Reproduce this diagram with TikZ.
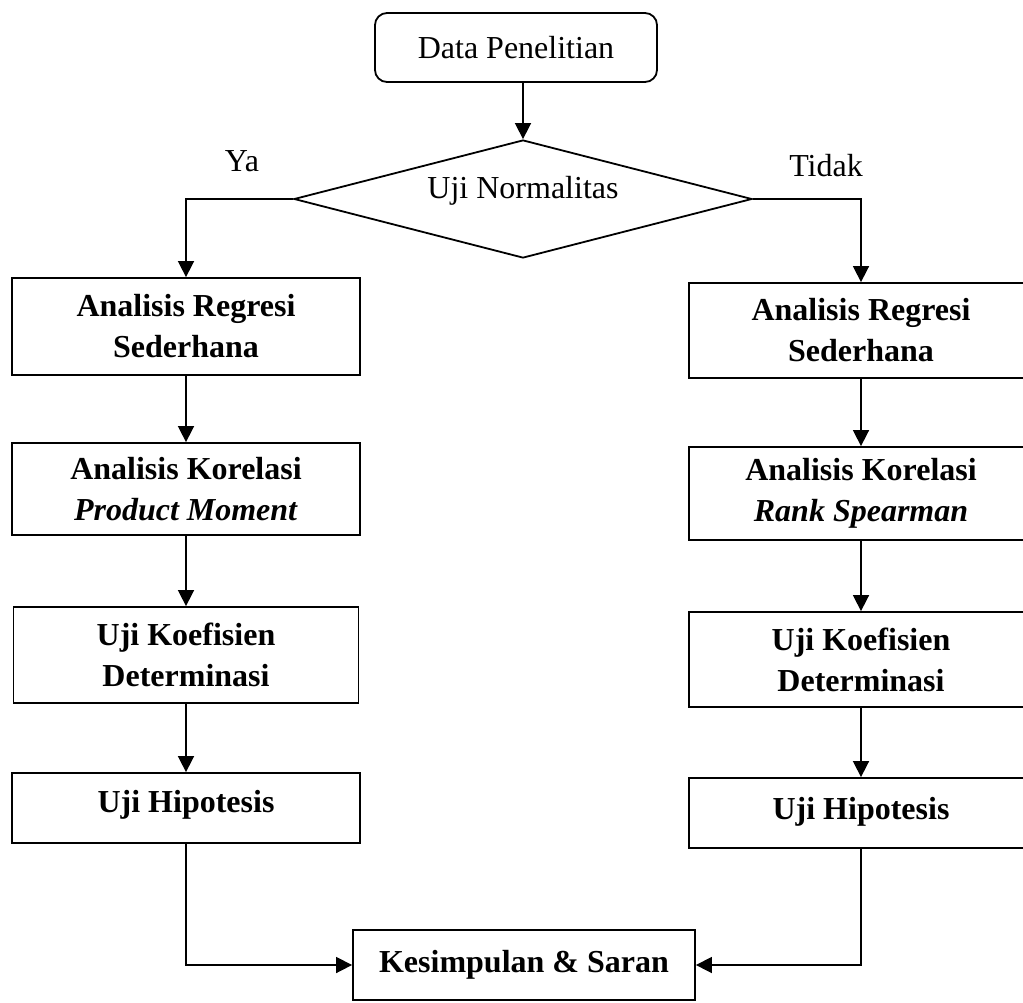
\documentclass[tikz,border=0pt]{standalone}
\usepackage{fontspec}
\setmainfont{Liberation Serif}
\usetikzlibrary{shapes.geometric,arrows.meta}
\begin{document}
\begin{tikzpicture}[x=1pt,y=-1pt,
  every node/.style={font=\fontsize{32}{41}\selectfont},
  procbox/.style={draw, line width=1.8pt, align=center, inner sep=0pt,
    font=\fontsize{32}{41}\selectfont\bfseries},
  startbox/.style={draw, line width=1.8pt, rounded corners=12pt, align=center, inner sep=0pt},
  decision/.style={draw, line width=1.8pt, shape=diamond, inner sep=0pt,
    minimum width=458pt, minimum height=118pt, aspect=3.88},
  conn/.style={line width=1.6pt, -{Triangle[length=16pt,width=16pt]}},
  lbl/.style={inner sep=0pt}
]
\useasboundingbox (0,0) rectangle (1023,1002);
\clip (0,0) rectangle (1023,1002);

\node[startbox, minimum width=282pt, minimum height=69pt] (top) at (516,47.5) {Data Penelitian};
\node[decision] (dia) at (523,199) {};
\node[lbl] (dtext) at (523,191) {Uji Normalitas};

\node[lbl] (ya) at (242,161) {Ya};
\node[lbl] (tidak) at (826,166) {Tidak};

% left column
\node[procbox, minimum width=348pt, minimum height=97pt] (l1) at (186,326.5) {Analisis Regresi\\Sederhana};
\node[procbox, minimum width=348pt, minimum height=92pt] (l2) at (186,489) {Analisis Korelasi\\\textit{Product Moment}};
\node[procbox, minimum width=345pt, minimum height=96pt] (l3) at (186,655) {Uji Koefisien\\Determinasi};
\node[procbox, minimum width=348pt, minimum height=70pt, text depth=14pt] (l4) at (186,808) {Uji Hipotesis};

% right column
\node[procbox, minimum width=344pt, minimum height=95pt] (r1) at (861,330.5) {Analisis Regresi\\Sederhana};
\node[procbox, minimum width=344pt, minimum height=93pt] (r2) at (861,493.5) {Analisis Korelasi\\\textit{Rank Spearman}};
\node[procbox, minimum width=344pt, minimum height=95pt] (r3) at (861,659.5) {Uji Koefisien\\Determinasi};
\node[procbox, minimum width=344pt, minimum height=70pt, text depth=10pt] (r4) at (861,813) {Uji Hipotesis};

% bottom
\node[procbox, minimum width=342pt, minimum height=70pt] (bot) at (524,965) {Kesimpulan \& Saran};

% connectors
\draw[conn] (dia.north |- top.south) -- (dia.north);
\draw[conn] (dia.west) -| (l1.north);
\draw[conn] (dia.east) -| (r1.north);
\draw[conn] (l1) -- (l2);
\draw[conn] (l2) -- (l3);
\draw[conn] (l3) -- (l4);
\draw[conn] (r1) -- (r2);
\draw[conn] (r2) -- (r3);
\draw[conn] (r3) -- (r4);
\draw[conn] (l4.south) |- (bot.west);
\draw[conn] (r4.south) |- (bot.east);
\end{tikzpicture}
\end{document}
